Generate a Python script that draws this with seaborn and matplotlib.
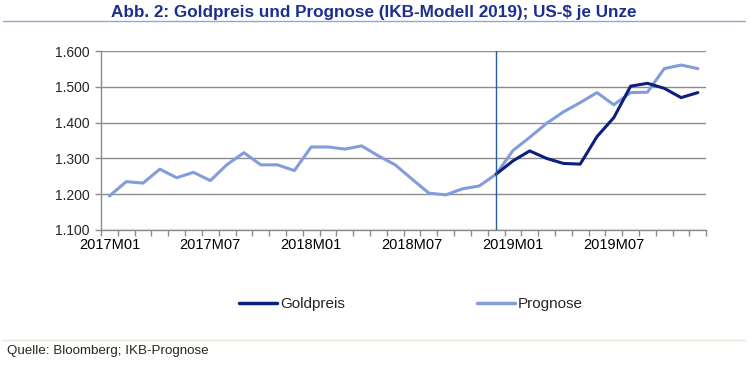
import numpy as np
import pandas as pd
import matplotlib
matplotlib.use('Agg')
import matplotlib.pyplot as plt
import seaborn as sns
from matplotlib.lines import Line2D
from matplotlib.ticker import FixedLocator, FuncFormatter

# Monate 2017M01 .. 2019M12
monate = [f"{j}M{m:02d}" for j in (2017, 2018, 2019) for m in range(1, 13)]

# Historie bis 2018M12 (beide Reihen identisch)
historie = [1.195, 1.235, 1.231, 1.270, 1.246, 1.261, 1.238, 1.283, 1.316, 1.282, 1.282, 1.266,
            1.332, 1.332, 1.326, 1.335, 1.307, 1.282, 1.242, 1.203, 1.198, 1.215, 1.223, 1.256]
gold_2019 = [1.293, 1.321, 1.300, 1.286, 1.284, 1.361, 1.414, 1.502, 1.510, 1.496, 1.470, 1.484]
prog_2019 = [1.322, 1.359, 1.398, 1.430, 1.456, 1.484, 1.450, 1.484, 1.485, 1.551, 1.561, 1.551]

goldpreis = historie + gold_2019
prognose = historie + prog_2019

df = pd.DataFrame({
    "t": list(range(len(monate))) * 2,
    "wert": goldpreis + prognose,
    "reihe": ["Goldpreis"] * len(monate) + ["Prognose"] * len(monate),
})

sns.set_theme(style="white")
plt.rcParams['font.family'] = ['Liberation Sans', 'DejaVu Sans']

farben = {"Goldpreis": "#0d1f7c", "Prognose": "#819ddb"}

fig = plt.figure(figsize=(7.5, 3.65), dpi=100)
ax = fig.add_axes([0.1347, 0.370, 0.807, 0.490])

sns.lineplot(data=df, x="t", y="wert", hue="reihe", palette=farben,
             hue_order=["Goldpreis", "Prognose"], linewidth=2.2, ax=ax, legend=False)

# Goldpreis erst ab Prognosebeginn sichtbar ueber der Prognose
ax.lines[1].set_zorder(3)
ax.lines[0].set_zorder(4)
ax.lines[0].set_data(range(23, 36), goldpreis[23:])

ax.axvline(23, color="#2b5e9e", linewidth=1.0, zorder=5)

ax.set_xlim(-0.5, len(monate) - 0.5)
ax.set_ylim(1.1, 1.6)
ax.set_yticks(np.arange(1.1, 1.61, 0.1))
ax.yaxis.set_major_formatter(FuncFormatter(lambda v, p: f"{v:.3f}"))
ax.yaxis.grid(True, color="#8c8c8c", linewidth=1.0)
ax.set_axisbelow(True)

ax.set_xticks(range(0, len(monate), 6))
ax.set_xticklabels(monate[::6])
ax.xaxis.set_minor_locator(FixedLocator(np.arange(-0.5, len(monate), 1)))
ax.tick_params(axis="x", which="major", length=0, pad=6, labelsize=10.5, colors="black")
ax.tick_params(axis="x", which="minor", length=4, width=1, color="#8c8c8c", direction="out", bottom=True)
ax.tick_params(axis="y", length=4, width=1, color="#8c8c8c", direction="out", left=True,
               labelsize=10, pad=4)

for s in ("top", "right"):
    ax.spines[s].set_visible(False)
for s in ("left", "bottom"):
    ax.spines[s].set_color("#8c8c8c")
    ax.spines[s].set_linewidth(1.0)
ax.set_xlabel("")
ax.set_ylabel("")

handles = [Line2D([0], [0], color=farben[k], linewidth=2.5) for k in ("Goldpreis", "Prognose")]
fig.legend(handles, ["Goldpreis", "Prognose"], loc="center", bbox_to_anchor=(0.548, 0.167),
           ncol=2, frameon=False, fontsize=11, handlelength=2.5, handletextpad=0.2,
           columnspacing=8.6)

fig.text(0.498, 0.966, "Abb. 2: Goldpreis und Prognose (IKB-Modell 2019); US-$ je Unze",
         ha="center", va="center", fontsize=12.3, fontweight="bold", color="#1b2f8f")
fig.add_artist(Line2D([0.004, 0.993], [0.943, 0.943], color="#93a6d0", linewidth=1.0))
fig.add_artist(Line2D([0.003, 0.993], [0.068, 0.068], color="#e9e5d8", linewidth=1.0))
fig.text(0.009, 0.038, "Quelle: Bloomberg; IKB-Prognose", ha="left", va="center", fontsize=9.6)

fig.savefig("out.png", dpi=100)
